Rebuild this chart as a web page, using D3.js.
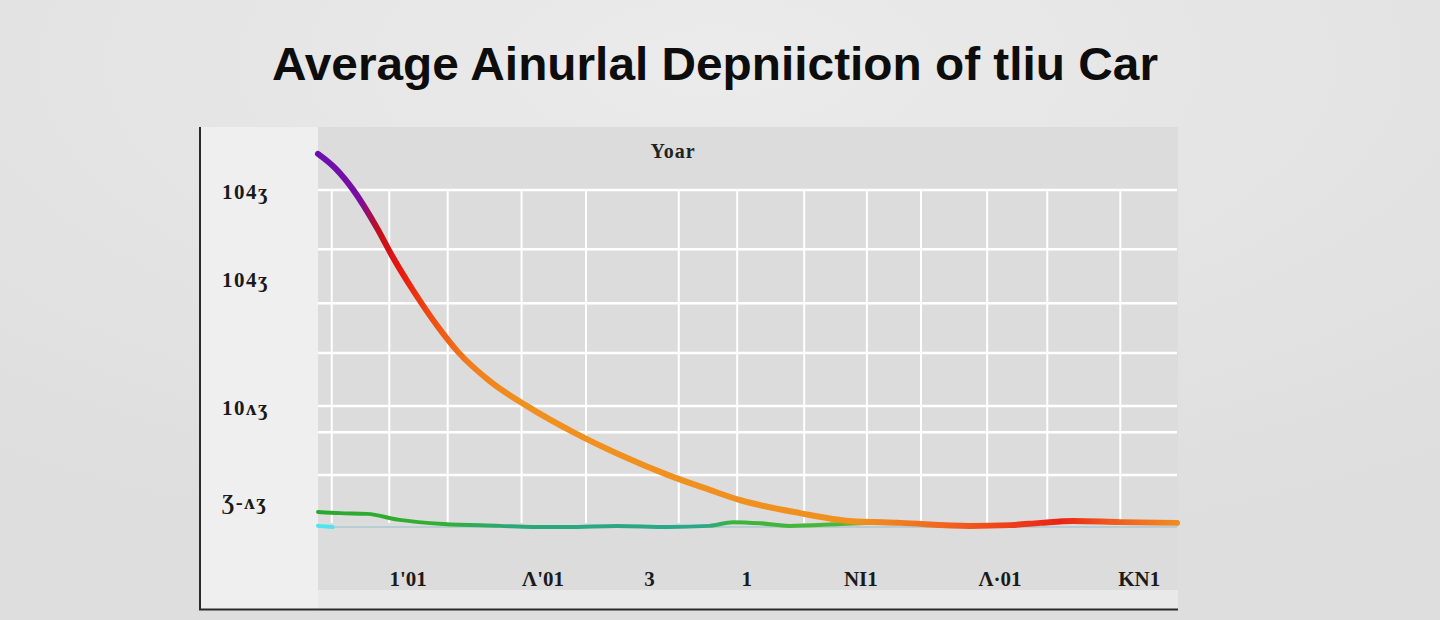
<!DOCTYPE html>
<html>
<head>
<meta charset="utf-8">
<script src="https://cdn.jsdelivr.net/npm/d3@7"></script>
<style>
  html, body { margin: 0; padding: 0; background: #e3e3e3; }
  svg { display: block; }
</style>
</head>
<body>
<svg id="chart" width="1440" height="620"></svg>
<script>
// ---- data ----
const titleText = "Average Ainurlal Depniiction of tliu Car";
const xAxisTitle = "Yoar";
const xTickValues = [1.05, 2.62, 3.86, 4.99, 6.32, 7.94, 9.56];
const xTickLabels = ["1'01", "\u039B'01", "3", "1", "\u039D\u0406\u0031", "\u039B\u00B701", "\u039A\u039D\u0031"];
const yTickValues = [89.3, 65.9, 31.7, 6.7];
const yTickLabels = ["104\u0292", "104\u0292", "10\u028C\u0292", "\u01B7-\u028C\u0292"];
const xGridValues = [0.16, 0.83, 1.51, 2.37, 3.12, 4.20, 4.88, 5.66, 6.39, 7.02, 7.79, 8.49, 9.34];
const yGridValues = [89.9, 74.1, 59.7, 46.4, 32.3, 25.3, 13.9];

// main depreciation curve
const mainYears  = [0, 0.20, 0.41, 0.69, 0.87, 1.11, 1.39, 1.63, 2.00, 2.43, 2.97, 3.52, 4.07, 4.56, 4.91, 5.61, 6.19, 6.78, 7.59, 8.06, 8.41, 8.79, 9.34, 10];
const mainValues = [99.5, 95.7, 89.9, 79.6, 72.0, 63.0, 53.6, 46.7, 38.9, 32.3, 25.3, 19.2, 13.9, 9.9, 7.2, 3.7, 1.6, 1.1, 0.3, 0.5, 1.1, 1.6, 1.3, 1.1];

// low green series
const greenYears  = [0, 0.26, 0.57, 0.95, 1.46, 2.12, 2.50, 2.90, 3.48, 4.07, 4.56, 4.83, 5.15, 5.49, 6.08, 6.43];
const greenValues = [4.0, 3.7, 3.5, 1.9, 0.8, 0.3, 0.0, 0.0, 0.3, 0.0, 0.3, 1.3, 1.0, 0.3, 0.8, 1.1];

// short cyan stub
const cyanYears  = [0, 0.17];
const cyanValues = [0.3, 0];

// baseline
const baseYears  = [0, 10];
const baseValues = [0, 0];

// ---- layout ----
const svg = d3.select("#chart");
const plot = { left: 318, right: 1177, top: 127, bottom: 590 };
const x = d3.scaleLinear().domain([0, 10]).range([plot.left, plot.right]);
const y = d3.scaleLinear().domain([0, 100]).range([527, 152]);

const defs = svg.append("defs");
const bgGrad = defs.append("radialGradient").attr("id", "bgGrad")
  .attr("cx", "50%").attr("cy", "10%").attr("r", "80%");
bgGrad.append("stop").attr("offset", "0%").attr("stop-color", "#ebebeb");
bgGrad.append("stop").attr("offset", "100%").attr("stop-color", "#dedede");
svg.append("rect").attr("width", 1440).attr("height", 620).attr("fill", "url(#bgGrad)");

// left panel
svg.append("rect").attr("x", 200).attr("y", plot.top).attr("width", plot.left - 200)
  .attr("height", 609 - plot.top).attr("fill", "#efefef");
// plot background
svg.append("rect").attr("x", plot.left).attr("y", plot.top).attr("width", 1178 - plot.left)
  .attr("height", plot.bottom - plot.top).attr("fill", "#dcdcdc");
// bottom strip
svg.append("rect").attr("x", plot.left).attr("y", plot.bottom).attr("width", 1178 - plot.left)
  .attr("height", 609 - plot.bottom).attr("fill", "#e9e9e9");

// grid
const gridTop = y(yGridValues[0]);
svg.append("g").selectAll("line.v").data(xGridValues).join("line")
  .attr("x1", d => x(d)).attr("x2", d => x(d))
  .attr("y1", gridTop).attr("y2", 523)
  .attr("stroke", "#ffffff").attr("stroke-width", 2);
svg.append("g").selectAll("line.h").data(yGridValues).join("line")
  .attr("x1", plot.left).attr("x2", plot.right)
  .attr("y1", d => y(d)).attr("y2", d => y(d))
  .attr("stroke", "#ffffff").attr("stroke-width", 2.5);

// axis lines
svg.append("line").attr("x1", 200).attr("x2", 200).attr("y1", plot.top).attr("y2", 610)
  .attr("stroke", "#2a2a2a").attr("stroke-width", 2);
svg.append("line").attr("x1", 199).attr("x2", 1178).attr("y1", 609.5).attr("y2", 609.5)
  .attr("stroke", "#2a2a2a").attr("stroke-width", 2);

// title
svg.append("text").attr("x", 272).attr("y", 80)
  .attr("textLength", 886).attr("lengthAdjust", "spacingAndGlyphs")
  .attr("font-family", "Liberation Sans, Arial, sans-serif").attr("font-weight", "bold")
  .attr("font-size", 47).attr("fill", "#0d0d0d").text(titleText);

// x axis title
svg.append("text").attr("x", 673).attr("y", 158).attr("text-anchor", "middle")
  .attr("font-family", "Liberation Serif, serif").attr("font-weight", "bold")
  .attr("font-size", 20).attr("fill", "#222").attr("letter-spacing", 1)
  .text(xAxisTitle);

// x tick labels
svg.append("g").selectAll("text").data(xTickValues).join("text")
  .attr("x", d => x(d)).attr("y", 586).attr("text-anchor", "middle")
  .attr("font-family", "Liberation Serif, serif").attr("font-weight", "bold")
  .attr("font-size", 21).attr("fill", "#1a1a1a")
  .text((d, i) => xTickLabels[i]);

// y tick labels
svg.append("g").selectAll("text").data(yTickValues).join("text")
  .attr("x", 222).attr("y", d => y(d) + 7)
  .attr("font-family", "Liberation Serif, serif").attr("font-weight", "bold")
  .attr("font-size", 21).attr("fill", "#1a1a1a").attr("letter-spacing", 1.5)
  .text((d, i) => yTickLabels[i]);

// gradients for lines
function xGradient(id, stops) {
  const g = defs.append("linearGradient").attr("id", id)
    .attr("gradientUnits", "userSpaceOnUse")
    .attr("x1", plot.left).attr("x2", plot.right).attr("y1", 0).attr("y2", 0);
  stops.forEach(([px, c]) => g.append("stop")
    .attr("offset", (px - plot.left) / (plot.right - plot.left)).attr("stop-color", c));
}
xGradient("mainGrad", [
  [318, "#6a10b0"], [360, "#7a0ea0"], [378, "#c0101c"], [400, "#e8160f"],
  [430, "#f04a12"], [470, "#f07e1e"], [520, "#f0901f"], [860, "#f0901f"],
  [920, "#f07220"], [990, "#f04a1c"], [1060, "#ea2414"], [1110, "#f05a1e"], [1177, "#f08c22"]
]);
xGradient("greenGrad", [
  [318, "#2aa82e"], [440, "#33b032"], [510, "#2aa878"], [700, "#2aa88c"],
  [735, "#3ab43c"], [840, "#4cb834"], [880, "#e0902a"], [1177, "#e0902a"]
]);

const line = d3.line().x(d => x(d[0])).y(d => y(d[1])).curve(d3.curveMonotoneX);

// baseline
svg.append("path").datum(d3.zip(baseYears, baseValues)).attr("d", line)
  .attr("fill", "none").attr("stroke", "#b7ccd3").attr("stroke-width", 2);

// cyan stub
svg.append("path").datum(d3.zip(cyanYears, cyanValues)).attr("d", line)
  .attr("fill", "none").attr("stroke", "#4fe4ee").attr("stroke-width", 4)
  .attr("stroke-linecap", "round");

// green series
svg.append("path").datum(d3.zip(greenYears, greenValues)).attr("d", line)
  .attr("fill", "none").attr("stroke", "url(#greenGrad)").attr("stroke-width", 4)
  .attr("stroke-linecap", "round");

// main series
svg.append("path").datum(d3.zip(mainYears, mainValues)).attr("d", line)
  .attr("fill", "none").attr("stroke", "url(#mainGrad)").attr("stroke-width", 6)
  .attr("stroke-linecap", "round").attr("stroke-linejoin", "round");
</script>
</body>
</html>
